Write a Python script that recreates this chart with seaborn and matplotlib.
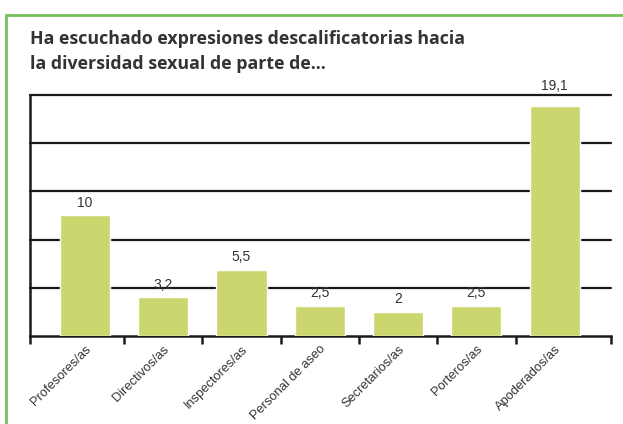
import matplotlib
matplotlib.use("Agg")
import matplotlib.pyplot as plt
import seaborn as sns
import pandas as pd
from matplotlib.patches import Rectangle

# data
categories = ['Profesores/as', 'Directivos/as', 'Inspectores/as', 'Personal de aseo',
              'Secretarios/as', 'Porteros/as', 'Apoderados/as']
values = [10, 3.2, 5.5, 2.5, 2, 2.5, 19.1]
value_labels = ['10', '3,2', '5,5', '2,5', '2', '2,5', '19,1']
grid_values = [0, 4, 8, 12, 16, 20]

df = pd.DataFrame({'category': categories, 'value': values})

sns.set_style('white')
plt.rcParams['font.family'] = ['Liberation Sans', 'DejaVu Sans']

fig = plt.figure(figsize=(6.23, 4.24), dpi=100)
ax = fig.add_axes([0.0482, 0.2075, 0.9326, 0.5685])

# green frame round the chart
fig.patches.append(Rectangle((0.0096, -0.05), 1.05, 1.015, transform=fig.transFigure,
                             fill=False, edgecolor='#74c05a', linewidth=2, clip_on=False))

sns.barplot(data=df, x='category', y='value', color='#cbd66f', width=0.64,
            saturation=1, ax=ax, zorder=3)

for g in grid_values[1:]:
    ax.axhline(g, color='#1a1a1a', linewidth=1.6, zorder=2, clip_on=False)

ax.set_ylim(0, 20)
ax.set_xlim(-0.7, len(categories) - 0.28)
ax.set_yticks([])
ax.set_xlabel('')
ax.set_ylabel('')

for side in ['top', 'right']:
    ax.spines[side].set_visible(False)
for side in ['left', 'bottom']:
    ax.spines[side].set_color('#1a1a1a')
    ax.spines[side].set_linewidth(1.8)

# category labels at bar centres, tick marks between bars
ax.set_xticks(range(len(categories)))
ax.set_xticklabels(categories, rotation=45, ha='right', rotation_mode='anchor',
                   fontsize=9.3, color='#333333')
ax.tick_params(axis='x', which='major', length=0, pad=5)
bounds = [-0.7] + [i + 0.5 for i in range(len(categories) - 1)] + [len(categories) - 0.28]
ax.set_xticks(bounds, minor=True)
ax.tick_params(axis='x', which='minor', length=6, width=1.8, color='#1a1a1a',
               direction='out', bottom=True)

texts = ax.bar_label(ax.containers[0], labels=value_labels, padding=4, fontsize=10,
                     color='#333333')
texts[-1].xyann = (0, 9)  # tallest label sits above the top line

fig.text(0.0482, 0.929, 'Ha escuchado expresiones descalificatorias hacia\nla diversidad sexual de parte de...',
         fontsize=12.8, fontweight='bold', color='#333333', ha='left', va='top',
         linespacing=1.5, family=['Open Sans', 'DejaVu Sans'])

fig.savefig('out.png', dpi=100)
